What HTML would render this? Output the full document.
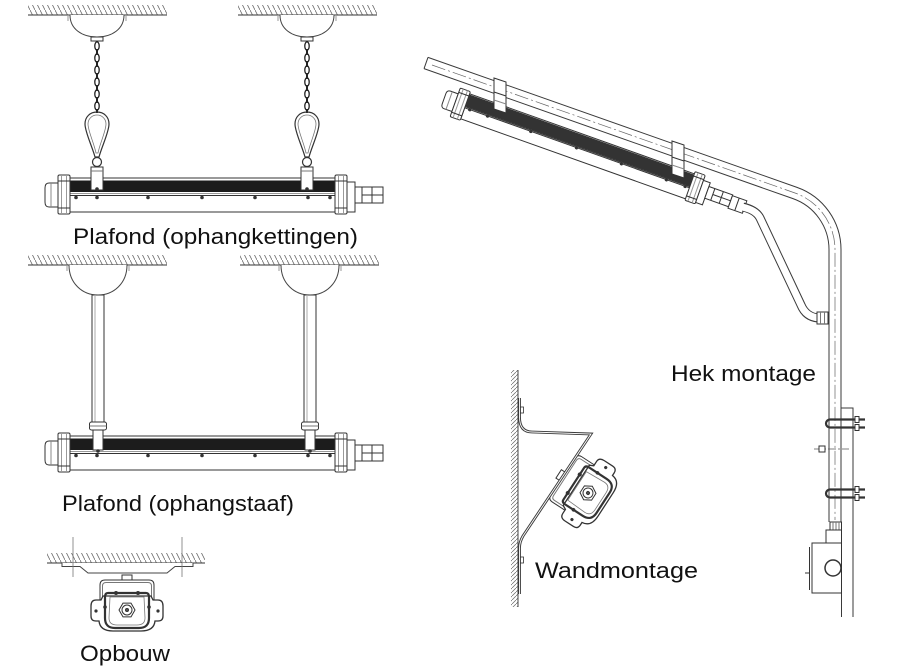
<!DOCTYPE html>
<html><head><meta charset="utf-8"><style>
html,body{margin:0;padding:0;background:#fff;}
svg{display:block;}
text{font-family:"Liberation Sans",sans-serif;font-size:22px;fill:#111;}
.fx *{vector-effect:non-scaling-stroke;}
</style></head><body>
<svg width="897" height="667" viewBox="0 0 897 667" xmlns="http://www.w3.org/2000/svg">
<defs>
<pattern id="hh" patternUnits="userSpaceOnUse" width="5" height="10">
<path d="M-1,-2 L6,12" stroke="#666" stroke-width="0.8" fill="none"/>
</pattern>
<pattern id="wh" patternUnits="userSpaceOnUse" width="4" height="4">
<path d="M-1,5 L5,-1" stroke="#666" stroke-width="0.7" fill="none"/>
</pattern>
<g id="fx" class="fx" stroke="#333" stroke-width="1" fill="#fff">
<path d="M0,5 L-9,5 Q-13,5 -13,10 L-13,24 Q-13,29 -9,29 L0,29 Z"/>
<line x1="-7" y1="5" x2="-7" y2="29" stroke="#888"/>
<rect x="12" y="0" width="266" height="34"/>
<rect x="12" y="2.5" width="266" height="11.5" fill="#1c1c1c" stroke="none"/>
<line x1="12" y1="15.5" x2="278" y2="15.5" stroke="#999"/>
<line x1="12" y1="17.5" x2="278" y2="17.5"/>
<g fill="#333" stroke="none">
<circle cx="18" cy="19.5" r="1.8"/><circle cx="39" cy="19.5" r="1.8"/><circle cx="90" cy="19.5" r="1.8"/>
<circle cx="144" cy="19.5" r="1.8"/><circle cx="197" cy="19.5" r="1.8"/><circle cx="250" cy="19.5" r="1.8"/><circle cx="272" cy="19.5" r="1.8"/>
</g>
<rect x="0" y="-3" width="12" height="39" rx="1.5"/>
<line x1="3.5" y1="-3" x2="3.5" y2="36" stroke="#999"/>
<line x1="8.5" y1="-3" x2="8.5" y2="36" stroke="#999"/>
<line x1="0" y1="3" x2="12" y2="3"/>
<line x1="0" y1="30" x2="12" y2="30"/>
<rect x="277" y="-3" width="12" height="39" rx="1.5"/>
<line x1="280.5" y1="-3" x2="280.5" y2="36" stroke="#999"/>
<line x1="285.5" y1="-3" x2="285.5" y2="36" stroke="#999"/>
<line x1="277" y1="3" x2="289" y2="3"/>
<line x1="277" y1="30" x2="289" y2="30"/>
<rect x="289" y="4" width="8" height="30"/>
<rect x="297" y="9" width="28" height="16"/>
<line x1="304" y1="9" x2="304" y2="25"/>
<line x1="314" y1="9" x2="314" y2="25"/>
<line x1="304" y1="17" x2="325" y2="17"/>
</g>
<g id="xs" fill="#fff" stroke="#333" stroke-width="1">
<rect x="-5" y="-35" width="10" height="5"/>
<path d="M-27,-8 L-27,-25 Q-27,-30 -22,-30 L22,-30 Q27,-30 27,-25 L27,-8 Z"/>
<path d="M-24.5,-8 L-24.5,-24 Q-24.5,-27.5 -21,-27.5 L21,-27.5 Q24.5,-27.5 24.5,-24 L24.5,-8" fill="none" stroke="#777"/>
<path d="M-24,-14 L24,-14 L26,-10 L31,-10 Q36,-10 36,-4 L36,6 Q36,11 31,11 L28,11 Q27,21 14,21 L-14,21 Q-27,21 -28,11 L-31,11 Q-36,11 -36,6 L-36,-4 Q-36,-10 -31,-10 L-26,-10 Z" stroke-width="1.3"/>
<path d="M-19,-17 L19,-17 Q22,-17 22,-13 L22,8 Q22,18 12,18 L-12,18 Q-22,18 -22,8 L-22,-13 Q-22,-17 -19,-17 Z" fill="none" stroke-width="2.2"/>
<path d="M-17,-13 L17,-13 L18,8 Q18,15 10,15 L-10,15 Q-18,15 -18,8 Z" fill="none" stroke="#777" stroke-width="0.8"/>
<g fill="#333" stroke="none">
<circle cx="-11" cy="-17" r="2"/><circle cx="11" cy="-17" r="2"/>
<circle cx="-22" cy="-3" r="1.8"/><circle cx="22" cy="-3" r="1.8"/>
<circle cx="-31" cy="1" r="1.6"/><circle cx="31" cy="1" r="1.6"/>
</g>
<polygon points="8,0 4,6.9 -4,6.9 -8,0 -4,-6.9 4,-6.9"/>
<circle cx="0" cy="0" r="5"/>
<circle cx="0" cy="0" r="1.5" fill="#555"/>
</g>
<g id="ch">
<rect x="28" y="5" width="139" height="10" fill="url(#hh)"/>
<line x1="28" y1="15" x2="167" y2="15" stroke="#333" stroke-width="1"/>
<path d="M70,15 C70,29 82,37 97,37 C112,37 124,29 124,15" fill="#fff" stroke="#444" stroke-width="1"/>
<path d="M68,15 V21 M126,15 V21" stroke="#999" stroke-width="1"/>
<rect x="91" y="37" width="12" height="4" fill="#fff" stroke="#333"/>
<g stroke="#222" fill="none" stroke-width="1.3">
<ellipse cx="97" cy="46" rx="2.2" ry="4.2"/><ellipse cx="97" cy="58" rx="2.2" ry="4.2"/>
<ellipse cx="97" cy="70" rx="2.2" ry="4.2"/><ellipse cx="97" cy="82" rx="2.2" ry="4.2"/>
<ellipse cx="97" cy="94" rx="2.2" ry="4.2"/><ellipse cx="97" cy="106" rx="2.2" ry="4.2"/>
<path d="M97,49v6 M97,61v6 M97,73v6 M97,85v6 M97,97v6 M97,109v4" stroke-width="2"/>
</g>
<path d="M97,112 C90,112 85,117 85,124 C85,132 92,146 95,157 L99,157 C102,146 109,132 109,124 C109,117 104,112 97,112 Z" fill="none" stroke="#333" stroke-width="1.2"/>
<path d="M97,115 C92,115 88,119 88,124 C88,131 94,143 96,153 L98,153 C100,143 106,131 106,124 C106,119 102,115 97,115 Z" fill="none" stroke="#777" stroke-width="0.8"/>
<circle cx="97" cy="162" r="4.5" fill="#fff" stroke="#333" stroke-width="1.2"/>
</g>
<g id="rd">
<rect x="28" y="255" width="139" height="10" fill="url(#hh)"/>
<line x1="28" y1="265" x2="167" y2="265" stroke="#333" stroke-width="1"/>
<path d="M69,265 C69,283 82,295 98,295 C114,295 127,283 127,265" fill="#fff" stroke="#444" stroke-width="1"/>
<path d="M67,265 V271 M129,265 V271" stroke="#999" stroke-width="1"/>
<rect x="92" y="295" width="12" height="127" fill="#fff" stroke="#333"/>
<line x1="95" y1="295" x2="95" y2="422" stroke="#aaa"/>
<rect x="89.5" y="422" width="17" height="8" rx="2" fill="#fff" stroke="#333"/>
<line x1="89.5" y1="426" x2="106.5" y2="426" stroke="#777"/>
</g>
</defs>

<!-- Section 1: chains -->
<use href="#ch"/>
<use href="#ch" transform="translate(210,0)"/>
<use href="#fx" transform="translate(58,178)"/>
<rect x="91" y="167" width="12" height="23" fill="#fff" stroke="#333"/>
<line x1="91" y1="171" x2="103" y2="171" stroke="#777"/>
<circle cx="97" cy="189" r="1.8" fill="#333"/>
<rect x="301" y="167" width="12" height="23" fill="#fff" stroke="#333"/>
<line x1="301" y1="171" x2="313" y2="171" stroke="#777"/>
<circle cx="307" cy="189" r="1.8" fill="#333"/>
<text x="73" y="244" textLength="285" lengthAdjust="spacingAndGlyphs">Plafond (ophangkettingen)</text>

<!-- Section 2: rods -->
<use href="#rd"/>
<use href="#rd" transform="translate(212,0)"/>
<use href="#fx" transform="translate(58,436)"/>
<rect x="93" y="430" width="10" height="20" fill="#fff" stroke="#333"/>
<circle cx="98" cy="451" r="1.8" fill="#333"/>
<rect x="305" y="430" width="10" height="20" fill="#fff" stroke="#333"/>
<circle cx="310" cy="451" r="1.8" fill="#333"/>
<text x="62" y="511" textLength="232" lengthAdjust="spacingAndGlyphs">Plafond (ophangstaaf)</text>

<!-- Section 3: Opbouw -->
<rect x="47" y="553" width="158" height="10" fill="url(#hh)"/>
<line x1="47" y1="563" x2="205" y2="563" stroke="#333"/>
<path d="M62,563 V566.5 H80 L88,573 H167 L175,566.5 H193 V563" fill="#fff" stroke="#444"/>
<path d="M73,537 V577 M182,537 V577" stroke="#777" stroke-width="0.8"/>
<use href="#xs" transform="translate(127,610)"/>
<text x="80" y="661" textLength="90" lengthAdjust="spacingAndGlyphs">Opbouw</text>

<!-- Hek montage -->
<path d="M426,63 L795,193 A60,60 0 0 1 835,249.5 L835,522" stroke="#3a3a3a" stroke-width="13" fill="none"/>
<path d="M426,63 L795,193 A60,60 0 0 1 835,249.5 L835,523" stroke="#fff" stroke-width="11" fill="none"/>
<line x1="428" y1="57.3" x2="424" y2="68.7" stroke="#3a3a3a"/>
<path d="M432,65 L795,193 A60,60 0 0 1 835,249.5 L835,520" stroke="#666" stroke-width="0.7" stroke-dasharray="14 3 2 3" fill="none"/>
<use href="#fx" transform="translate(459.5,90.2) rotate(19.6) scale(0.9,0.78)"/>
<g transform="translate(459.5,90.2) rotate(19.6) scale(0.9,0.78)" class="fx">
<rect x="12" y="1" width="265" height="16" fill="#333" stroke="none"/>
<line x1="12" y1="19" x2="277" y2="19" stroke="#333"/>
<rect x="325" y="10" width="17" height="17" fill="#fff" stroke="#333"/>
<line x1="333" y1="10" x2="333" y2="27" stroke="#333"/>
</g>
<path d="M743,207 Q756,210 760,218 L801,305 Q806,317 818,318" stroke="#3a3a3a" stroke-width="9" fill="none"/>
<path d="M742,207 Q756,210 760,218 L801,305 Q806,317 819,318" stroke="#fff" stroke-width="7" fill="none"/>
<rect x="817" y="312" width="11" height="12" fill="#fff" stroke="#333"/>
<path d="M820.5,312 V324 M824.5,312 V324" stroke="#777"/>
<polygon points="494,78 506,82 506,113 494,109" fill="#fff" stroke="#333"/>
<line x1="494" y1="92" x2="506" y2="96" stroke="#333"/>
<line x1="494" y1="100" x2="506" y2="104" stroke="#888"/>
<polygon points="672,141 684,145 684,178 672,174" fill="#fff" stroke="#333"/>
<line x1="672" y1="157" x2="684" y2="161" stroke="#333"/>
<line x1="672" y1="165" x2="684" y2="169" stroke="#888"/>
<!-- pole bottom -->
<line x1="841.5" y1="522" x2="841.5" y2="617" stroke="#3a3a3a"/>
<path d="M841.5,408 H853 V617" fill="none" stroke="#3a3a3a"/>
<path d="M865,419.5 H830 A4,4 0 0 0 830,427.5 H865" fill="none" stroke="#333" stroke-width="2.2"/>
<rect x="855" y="416.5" width="4" height="6" fill="#fff" stroke="#333"/>
<rect x="855" y="424.5" width="4" height="6" fill="#fff" stroke="#333"/>
<path d="M865,489.5 H830 A4,4 0 0 0 830,497.5 H865" fill="none" stroke="#333" stroke-width="2.2"/>
<rect x="855" y="486.5" width="4" height="6" fill="#fff" stroke="#333"/>
<rect x="855" y="494.5" width="4" height="6" fill="#fff" stroke="#333"/>
<line x1="814" y1="449" x2="849" y2="449" stroke="#555" stroke-width="0.8" stroke-dasharray="8 2 2 2"/>
<rect x="819" y="446" width="6" height="6" fill="#fff" stroke="#333"/>
<rect x="830" y="522" width="11.5" height="8" fill="#fff" stroke="#333"/>
<path d="M833,522 V530 M836,522 V530 M839,522 V530" stroke="#777"/>
<rect x="826" y="530" width="15.5" height="13" fill="#fff" stroke="#333"/>
<rect x="812" y="543" width="29.5" height="50" fill="#fff" stroke="#333"/>
<line x1="809.5" y1="547" x2="809.5" y2="590" stroke="#333"/>
<line x1="805" y1="573" x2="809.5" y2="573" stroke="#333"/>
<circle cx="833" cy="568" r="8" fill="#fff" stroke="#333" stroke-width="1.5"/>
<text x="671" y="381" textLength="145" lengthAdjust="spacingAndGlyphs">Hek montage</text>

<!-- Wandmontage -->
<rect x="511" y="370" width="7" height="237" fill="url(#wh)"/>
<line x1="518" y1="370" x2="518" y2="607" stroke="#444"/>
<use href="#xs" transform="translate(588,493) rotate(-57)"/>
<path d="M519.5,398 L519.5,417 Q519.5,432 532,432 L591,434 L523,536 Q519.5,542 519.5,548 L519.5,594" fill="none" stroke="#3a3a3a" stroke-width="2.8"/>
<path d="M519.5,398 L519.5,417 Q519.5,432 532,432 L591,434 L523,536 Q519.5,542 519.5,548 L519.5,594" fill="none" stroke="#fff" stroke-width="0.9"/>
<rect x="520.5" y="407" width="3" height="6" fill="#fff" stroke="#333" stroke-width="0.8"/>
<rect x="520.5" y="557" width="3" height="6" fill="#fff" stroke="#333" stroke-width="0.8"/>
<text x="535" y="578" textLength="163" lengthAdjust="spacingAndGlyphs">Wandmontage</text>
</svg>
</body></html>
